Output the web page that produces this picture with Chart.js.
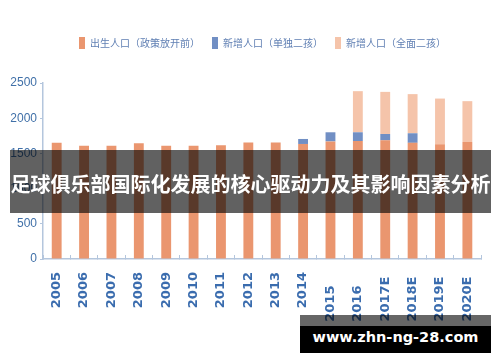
<!DOCTYPE html>
<html>
<head>
<meta charset="utf-8">
<script src="https://cdn.jsdelivr.net/npm/chart.js@4.4.0/dist/chart.umd.min.js"></script>
<style>
  body { margin: 0; background: #fff; }
  .wrap { position: relative; width: 500px; height: 362px; overflow: hidden; }
  .banner {
    position: absolute; left: 10px; top: 150px; width: 481px; height: 63px;
    background: rgba(0,0,0,0.62); color: #fff;
    font: bold 20px "Noto Sans CJK SC", sans-serif;
    display: flex; align-items: center; justify-content: center;
    padding-top: 4px; box-sizing: border-box; white-space: nowrap;
  }
  .wm-top { position: absolute; left: 300px; top: 315px; width: 191px; height: 11px; background: rgba(0,0,0,0.6); }
  .wm {
    position: absolute; left: 300px; top: 326px; width: 191px; height: 27px;
    background: #000; color: #fff; text-align: center;
    font: bold 14.5px "DejaVu Sans", sans-serif; line-height: 22px;
  }
</style>
</head>
<body>
<div class="wrap">
  <canvas id="myChart" width="500" height="362"></canvas>
  <div class="banner">足球俱乐部国际化发展的核心驱动力及其影响因素分析</div>
  <div class="wm-top"></div>
  <div class="wm">www.zhn-ng-28.com</div>
</div>
<script>
const years = ['2005','2006','2007','2008','2009','2010','2011','2012','2013','2014','2015','2016','2017E','2018E','2019E','2020E'];
const birthBase = [1652,1607,1607,1644,1607,1607,1615,1655,1655,1634,1670,1676,1686,1650,1630,1662];
const singleChild = [null,null,null,null,null,null,null,null,null,71,130,124,90,136,null,null];
const universalChild = [null,null,null,null,null,null,null,null,null,null,null,584,598,556,649,580];
const yTicks = [0,500,1000,1500,2000,2500];

const ctx = document.getElementById('myChart');
const axisColor = '#b4c6dd';

// legend gets extra height so the plot starts lower, and is drawn a bit right of centre
const legendTweak = {
    id: 'legendTweak',
    beforeInit(chart) {
        const legend = chart.legend;
        const fit = legend.fit;
        legend.fit = function () {
            fit.call(this);
            this.height = 58;
        };
        const draw = legend._draw;
        legend._draw = function () {
            this.ctx.save();
            this.ctx.translate(13, 0);
            draw.call(this);
            this.ctx.restore();
        };
    }
};

new Chart(ctx, {
    type: 'bar',
    data: {
        labels: years,
        datasets: [
            { label: '出生人口（政策放开前）', data: birthBase, backgroundColor: '#EA966F' },
            { label: '新增人口（单独二孩）', data: singleChild, backgroundColor: '#718FC4' },
            { label: '新增人口（全面二孩）', data: universalChild, backgroundColor: '#F5C4AA' }
        ]
    },
    options: {
        responsive: false,
        animation: false,
        devicePixelRatio: 1,
        layout: { padding: { top: 25, left: 0, right: 1, bottom: 0 } },
        datasets: { bar: { categoryPercentage: 1, barPercentage: 0.36, borderWidth: 0 } },
        plugins: {
            tooltip: { enabled: false },
            legend: {
                position: 'top',
                labels: {
                    boxWidth: 6,
                    boxHeight: 12,
                    padding: 12,
                    color: '#5f7fb3',
                    font: { family: 'Noto Sans CJK SC', size: 10 }
                }
            }
        },
        scales: {
            x: {
                stacked: true,
                afterFit: (s) => { s.height = 103; },
                border: { color: axisColor, width: 1.5 },
                grid: { drawOnChartArea: false, tickLength: -4, color: axisColor },
                ticks: {
                    autoSkip: false,
                    minRotation: 90,
                    maxRotation: 90,
                    padding: 17,
                    color: '#3a6cae',
                    font: { family: 'DejaVu Sans', size: 13, weight: 'bold' },
                    callback: function (value, index) {
                        let lbl = this.getLabelForValue(value);
                        if (index >= 10) lbl += lbl.length === 4 ? '   ' : ' ';
                        return lbl;
                    }
                }
            },
            y: {
                stacked: true,
                min: 0,
                max: 2500,
                afterFit: (s) => { s.width = 43; },
                afterBuildTicks: (s) => { s.ticks = yTicks.map(v => ({ value: v })); },
                border: { color: axisColor, width: 1.5 },
                grid: { drawOnChartArea: false, tickLength: 3, color: axisColor },
                ticks: {
                    padding: 3,
                    color: '#4070a8',
                    font: { family: 'Liberation Sans', size: 12 },
                    callback: (v) => String(v)
                }
            }
        }
    },
    plugins: [legendTweak]
});
</script>
</body>
</html>
